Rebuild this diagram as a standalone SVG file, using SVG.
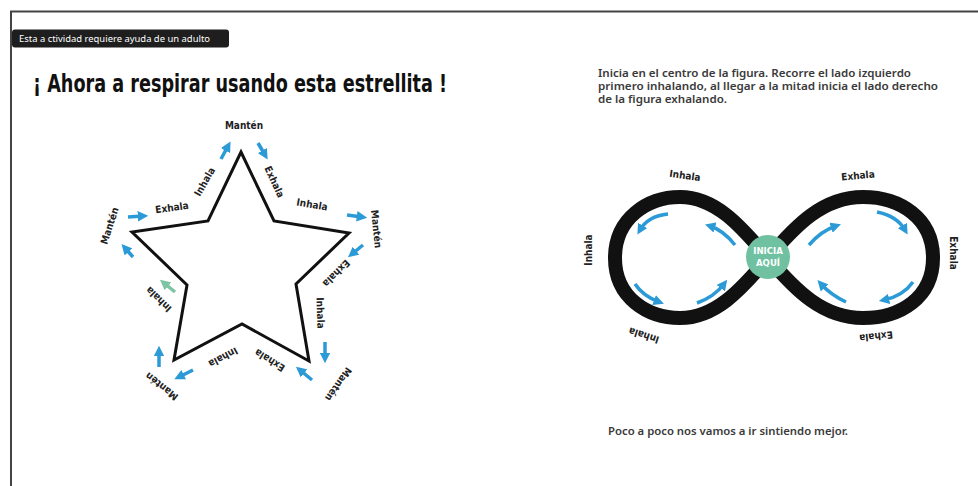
<svg xmlns="http://www.w3.org/2000/svg" width="978" height="486" viewBox="0 0 978 486">
<defs>
<style>
.hw{font-family:"DejaVu Sans Condensed","DejaVu Sans","Liberation Sans",sans-serif;font-weight:bold;font-size:10px;fill:#222;text-anchor:middle;dominant-baseline:middle}
.ds{font-family:"Noto Sans","Open Sans","Liberation Sans",sans-serif;font-weight:600;font-size:9.8px;fill:#3a3a3a}
.ar{stroke:#2b9ad6;stroke-width:3.5;fill:none;marker-end:url(#ah)}
.arg{stroke:#7cc4a4;stroke-width:3.5;fill:none;marker-end:url(#ahg)}
</style>
<marker id="ah" viewBox="0 0 10 10" refX="5" refY="5" markerWidth="3" markerHeight="3" orient="auto"><path d="M0,0 L10,5 L0,10 z" fill="#2b9ad6"/></marker>
<marker id="ahg" viewBox="0 0 10 10" refX="5" refY="5" markerWidth="3" markerHeight="3" orient="auto"><path d="M0,0 L10,5 L0,10 z" fill="#7cc4a4"/></marker>
</defs>
<rect width="978" height="486" fill="#fff"/>
<g id="frame">
<path d="M11,486 L11,11.5 L978,11.5" fill="none" stroke="#444" stroke-width="2"/>
</g>
<g id="badge">
<rect x="12" y="29.5" width="217" height="18" rx="3" fill="#1e1e1e"/>
<text x="19" y="42" font-family="Noto Sans,Open Sans,Liberation Sans,sans-serif" font-size="9" fill="#fff" textLength="191" lengthAdjust="spacingAndGlyphs">Esta a ctividad requiere ayuda de un adulto</text>
</g>
<g id="title">
<text x="33" y="92" font-family="DejaVu Sans Condensed,DejaVu Sans,Liberation Sans,sans-serif" font-weight="bold" font-size="25" fill="#111" textLength="414" lengthAdjust="spacingAndGlyphs">¡ Ahora a respirar usando esta estrellita !</text>
</g>
<g id="star">
<polygon points="241,152 274,221 349,233 296,284 309,361 242,324 174,360 187,285 132,232 208,221" fill="none" stroke="#111" stroke-width="3" stroke-linejoin="miter"/>
</g>
<g id="star-labels">
<text class="hw" transform="translate(244,126)">Mantén</text>
<text class="hw" transform="translate(205,182) rotate(-60)">Inhala</text>
<text class="hw" transform="translate(172,208) rotate(-8)">Exhala</text>
<text class="hw" transform="translate(110,226) rotate(-72)">Mantén</text>
<text class="hw" transform="translate(274,182) rotate(65)">Exhala</text>
<text class="hw" transform="translate(312,205) rotate(10)">Inhala</text>
<text class="hw" transform="translate(376,229) rotate(84)">Mantén</text>
<text class="hw" transform="translate(336,273) rotate(135)">Exhala</text>
<text class="hw" transform="translate(320,313) rotate(88)">Inhala</text>
<text class="hw" transform="translate(338,384) rotate(125)">Mantén</text>
<text class="hw" transform="translate(270,360) rotate(212)">Exhala</text>
<text class="hw" transform="translate(223,357) rotate(152)">Inhala</text>
<text class="hw" transform="translate(162,386) rotate(218)">Mantén</text>
<text class="hw" transform="translate(159,299) rotate(224)">Inhala</text>
</g>
<g id="connectors">
<line class="ar" x1="221" y1="159" x2="228" y2="146"/>
<line class="ar" x1="258" y1="143" x2="265" y2="155"/>
<line class="ar" x1="128" y1="217" x2="143" y2="216"/>
<line class="ar" x1="133" y1="257" x2="125" y2="248"/>
<line class="ar" x1="347" y1="215" x2="362" y2="217"/>
<line class="ar" x1="363" y1="245" x2="352" y2="254"/>
<line class="arg" x1="175" y1="292" x2="164" y2="283"/>
<line class="ar" x1="159" y1="367" x2="159" y2="351"/>
<line class="ar" x1="193" y1="370" x2="179" y2="377"/>
<line class="ar" x1="312" y1="380" x2="300" y2="370"/>
<line class="ar" x1="325" y1="342" x2="325" y2="358"/>
<path class="ar" d="M668,214 Q648,216 640,230"/>
<path class="ar" d="M735,245 Q723,230 710,226"/>
<path class="ar" d="M635,284 Q643,296 659,302"/>
<path class="ar" d="M697,303 Q714,297 724,284"/>
<path class="ar" d="M809,245 Q821,231 836,226"/>
<path class="ar" d="M877,212 Q897,216 905,230"/>
<path class="ar" d="M913,282 Q903,296 884,300"/>
<path class="ar" d="M846,302 Q831,295 821,284"/>
</g>
<g id="infinity">
<path d="M768,258 C740,225 715,197 680,197 C648,197 615,218 615,258 C615,298 648,318 680,318 C715,318 740,291 768,258 C796,225 823,197 863,197 C900,197 933,218 933,258 C933,298 900,318 863,318 C823,318 796,291 768,258 Z" fill="none" stroke="#111" stroke-width="14"/>
</g>
<g id="start">
<circle cx="768" cy="257" r="22" fill="#70c1a1"/>
<text x="768" y="254" font-family="DejaVu Sans Condensed,DejaVu Sans,sans-serif" font-weight="bold" font-size="9.5" fill="#fff" text-anchor="middle">INICIA</text>
<text x="768" y="266" font-family="DejaVu Sans Condensed,DejaVu Sans,sans-serif" font-weight="bold" font-size="9.5" fill="#fff" text-anchor="middle">AQUÍ</text>
</g>
<g id="inf-labels">
<text class="hw" transform="translate(685,176) rotate(8)">Inhala</text>
<text class="hw" transform="translate(858,176) rotate(-5)">Exhala</text>
<text class="hw" transform="translate(589,250) rotate(-90)">Inhala</text>
<text class="hw" transform="translate(953,253) rotate(90)">Exhala</text>
<text class="hw" transform="translate(644,335) rotate(198)">Inhala</text>
<text class="hw" transform="translate(876,336) rotate(174)">Exhala</text>
</g>
<g id="instructions">
<text class="ds" x="598" y="77" textLength="313" lengthAdjust="spacingAndGlyphs">Inicia en el centro de la figura. Recorre el lado izquierdo</text>
<text class="ds" x="598" y="90" textLength="340" lengthAdjust="spacingAndGlyphs">primero inhalando, al llegar a la mitad inicia el lado derecho</text>
<text class="ds" x="598" y="103" textLength="129" lengthAdjust="spacingAndGlyphs">de la figura exhalando.</text>
<text class="ds" x="608" y="435" textLength="240" lengthAdjust="spacingAndGlyphs">Poco a poco nos vamos a ir sintiendo mejor.</text>
</g>
</svg>
